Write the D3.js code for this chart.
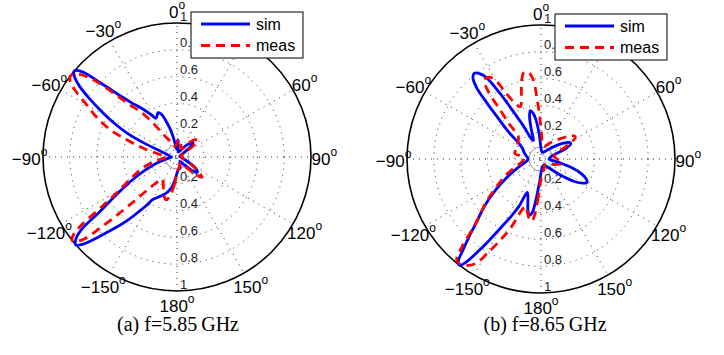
<!DOCTYPE html>
<html><head><meta charset="utf-8">
<script src="https://cdn.jsdelivr.net/npm/d3@7"></script>
<style>body{margin:0;background:#fff}</style>
</head><body><svg id="c" width="724" height="355"></svg>
<script>
// ---- data ----
const angleTicks = [0, 30, 60, 90, 120, 150, 180, -150, -120, -90, -60, -30];
const angleTickLabels = ["0", "30", "60", "90", "120", "150", "180", "\u2212150", "\u2212120", "\u221290", "\u221260", "\u221230"];
const ringValues = [0.2, 0.4, 0.6, 0.8, 1];
const ringLabels = ["0.2", "0.4", "0.6", "0.8", "1"];
const seriesNames = ["sim", "meas"];
const captions = ["(a) f=5.85\u2009GHz", "(b) f=8.65\u2009GHz"];

// [angle in degrees, normalised magnitude]
const simA = [[-180,0.12],[-175,0.17],[-170,0.23],[-165,0.27],[-160,0.30],[-155,0.33],[-152,0.35],[-150,0.37],[-148,0.42],[-145,0.50],[-142,0.60],[-139,0.70],[-137,0.77],[-135,0.86],[-133,0.95],[-131,1.0],[-129,0.97],[-127,0.88],[-125.5,0.72],[-123,0.58],[-120,0.46],[-117,0.37],[-113,0.27],[-109,0.19],[-105,0.13],[-100,0.08],[-95,0.05],[-90,0.04],[-85,0.05],[-80,0.06],[-75,0.08],[-70,0.14],[-67,0.27],[-64.5,0.41],[-62,0.52],[-59,0.65],[-56,0.80],[-54,0.90],[-52,0.97],[-50,1.0],[-48,0.95],[-46,0.80],[-43,0.63],[-40,0.53],[-36,0.45],[-32,0.38],[-28.5,0.33],[-26,0.34],[-23,0.36],[-20,0.34],[-16,0.26],[-12,0.18],[-8,0.10],[-4,0.06],[0,0.09],[3,0.13],[6,0.08],[12,0.04],[25,0.05],[35,0.09],[43,0.14],[48,0.16],[53,0.12],[60,0.05],[75,0.02],[90,0.03],[105,0.05],[115,0.10],[121,0.16],[126,0.19],[131,0.16],[137,0.08],[145,0.04],[155,0.05],[163,0.08],[168,0.09],[173,0.09],[178,0.11]];
const measA = [[-180,0.12],[-175,0.2],[-170,0.29],[-166,0.33],[-162,0.31],[-157,0.26],[-152,0.22],[-146,0.2],[-141,0.25],[-138,0.33],[-136,0.45],[-134.5,0.58],[-133,0.75],[-131.5,0.92],[-130,0.98],[-128.5,1.0],[-127,0.97],[-125.5,0.88],[-124,0.72],[-122,0.58],[-119,0.47],[-115,0.38],[-110,0.3],[-105,0.23],[-100,0.15],[-95,0.1],[-90,0.08],[-85,0.1],[-80,0.15],[-77,0.22],[-74,0.3],[-71,0.4],[-68,0.53],[-64,0.66],[-60,0.78],[-57,0.9],[-55,0.97],[-53,1.0],[-51,0.98],[-49,0.93],[-47,0.83],[-44.5,0.65],[-42,0.52],[-39,0.44],[-36,0.34],[-33,0.24],[-30,0.18],[-25,0.14],[-18,0.1],[-10,0.08],[0,0.1],[8,0.13],[14,0.13],[20,0.08],[30,0.07],[40,0.14],[47,0.19],[52,0.2],[56,0.14],[62,0.06],[75,0.03],[90,0.04],[105,0.05],[115,0.1],[123,0.18],[129,0.24],[133,0.2],[139,0.1],[148,0.05],[160,0.06],[170,0.08],[176,0.1]];
const simB = [[-180,0.1],[-177,0.16],[-175,0.21],[-172.5,0.33],[-170.5,0.41],[-168,0.43],[-165,0.38],[-161,0.3],[-157.5,0.27],[-155,0.39],[-152.5,0.48],[-150,0.58],[-147.5,0.72],[-146,0.82],[-144,0.95],[-142.5,1.0],[-141,0.98],[-139.5,0.9],[-137,0.78],[-134,0.66],[-131,0.58],[-128,0.5],[-124,0.4],[-119,0.3],[-113,0.21],[-105,0.14],[-95,0.1],[-85,0.1],[-75,0.12],[-67,0.14],[-60,0.16],[-55,0.2],[-50,0.32],[-46,0.46],[-44,0.58],[-42,0.72],[-40,0.79],[-38,0.81],[-36,0.79],[-34,0.74],[-32,0.58],[-30.5,0.43],[-28,0.28],[-25,0.16],[-22,0.15],[-18,0.24],[-15,0.33],[-12.5,0.37],[-10,0.35],[-7.5,0.3],[-4,0.18],[0,0.08],[10,0.05],[25,0.06],[40,0.1],[52,0.18],[59,0.24],[63,0.25],[67,0.2],[75,0.08],[90,0.06],[100,0.13],[106,0.24],[110,0.32],[114,0.37],[117,0.385],[120,0.36],[124,0.3],[130,0.18],[140,0.08],[155,0.05],[170,0.06]];
const measB = [[-180,0.15],[-176,0.28],[-173.5,0.42],[-171.5,0.47],[-168.5,0.45],[-165,0.4],[-162,0.37],[-159,0.42],[-156.5,0.55],[-154,0.65],[-151,0.78],[-148,0.92],[-145,0.97],[-142,0.99],[-140,0.98],[-138,0.88],[-135,0.7],[-131,0.58],[-128,0.52],[-125,0.45],[-120,0.36],[-114,0.28],[-107,0.2],[-100,0.15],[-92,0.13],[-84,0.13],[-78,0.2],[-72,0.2],[-64,0.2],[-56,0.21],[-50,0.22],[-45,0.24],[-42,0.36],[-39.5,0.5],[-38,0.64],[-36,0.72],[-34,0.73],[-32,0.72],[-30,0.68],[-28,0.56],[-25,0.46],[-21.5,0.42],[-17,0.5],[-14,0.6],[-11,0.66],[-8,0.65],[-5.5,0.59],[-4,0.47],[-2,0.33],[1,0.19],[5,0.12],[15,0.1],[30,0.14],[45,0.22],[53,0.29],[57,0.305],[61,0.27],[67,0.15],[78,0.1],[90,0.12],[97,0.15],[102,0.16],[108,0.13],[120,0.08],[140,0.05],[160,0.07],[172,0.1]];

// ---- drawing ----
const svg = d3.select("#c");
const R = 134;
const panels = [
  {cx: 177, cy: 157, sim: simA, meas: measA, cap: captions[0], capX: 178},
  {cx: 541, cy: 159, sim: simB, meas: measB, cap: captions[1], capX: 545}
];
const rScale = d3.scaleLinear().domain([0, 1]).range([0, R]);
const rad = d => d * Math.PI / 180;
const line = d3.lineRadial()
  .angle(d => rad(d[0]))
  .radius(d => rScale(d[1]))
  .curve(d3.curveCatmullRomClosed.alpha(0.5));

const sans = "'Liberation Sans', Arial, Helvetica, sans-serif";

panels.forEach(p => {
  const g = svg.append("g").attr("transform", `translate(${p.cx},${p.cy})`);
  // dotted rings
  g.selectAll("circle.ring").data(ringValues.filter(v => v < 1)).enter()
    .append("circle").attr("r", d => rScale(d))
    .attr("fill", "none").attr("stroke", "#333").attr("stroke-width", 1)
    .attr("stroke-dasharray", "1,5");
  // small centre circle
  g.append("circle").attr("r", rScale(0.09)).attr("fill", "none")
    .attr("stroke", "#777").attr("stroke-width", 0.8);
  // dotted spokes
  g.selectAll("line.spoke").data(angleTicks.filter(a => a >= 0 && a < 180)).enter()
    .append("line")
    .attr("x1", d => -rScale(1) * Math.sin(rad(d))).attr("y1", d => rScale(1) * Math.cos(rad(d)))
    .attr("x2", d => rScale(1) * Math.sin(rad(d))).attr("y2", d => -rScale(1) * Math.cos(rad(d)))
    .attr("stroke", "#333").attr("stroke-width", 1).attr("stroke-dasharray", "1,5");
  // outer circle
  g.append("circle").attr("r", rScale(1)).attr("fill", "none")
    .attr("stroke", "#000").attr("stroke-width", 1.6);

  // radial labels (above and below centre)
  ringValues.forEach((v, i) => {
    [-1, 1].forEach(s => {
      g.append("text").attr("x", 3).attr("y", s * rScale(v) - 7)
        .attr("dominant-baseline", "central")
        .attr("font-family", sans).attr("font-size", 13).attr("fill", "#222")
        .text(ringLabels[i]);
    });
  });

  // angle labels
  angleTicks.forEach((a, i) => {
    const t = g.append("text")
      .attr("x", 1.1 * R * Math.sin(rad(a)))
      .attr("y", -1.1 * R * Math.cos(rad(a)) + 2)
      .attr("text-anchor", "middle").attr("dominant-baseline", "central")
      .attr("font-family", sans).attr("font-size", 17).attr("fill", "#000");
    t.append("tspan").text(angleTickLabels[i]);
    t.append("tspan").attr("dy", -7).attr("font-size", 12).text("o");
  });

  // curves
  g.append("path").datum(p.sim).attr("d", line)
    .attr("fill", "none").attr("stroke", "#0000ff").attr("stroke-width", 2.8)
    .attr("stroke-linejoin", "round");
  g.append("path").datum(p.meas).attr("d", line)
    .attr("fill", "none").attr("stroke", "#ff0000").attr("stroke-width", 2.8)
    .attr("stroke-dasharray", "9,6");

  // legend
  const lg = g.append("g").attr("transform", `translate(14,-145)`);
  lg.append("rect").attr("width", 112).attr("height", 46)
    .attr("fill", "#fff").attr("stroke", "#000").attr("stroke-width", 1);
  const styles = [{c: "#0000ff", d: null}, {c: "#ff0000", d: "9,6"}];
  seriesNames.forEach((n, i) => {
    const y = 12 + i * 21.5;
    const l = lg.append("line").attr("x1", 10).attr("x2", 59).attr("y1", y).attr("y2", y)
      .attr("stroke", styles[i].c).attr("stroke-width", 2.8);
    if (styles[i].d) l.attr("stroke-dasharray", styles[i].d);
    lg.append("text").attr("x", 65).attr("y", y).attr("dominant-baseline", "central")
      .attr("font-family", sans).attr("font-size", 16).text(n);
  });

  // caption
  svg.append("text").attr("x", p.capX).attr("y", 331).attr("text-anchor", "middle")
    .attr("font-family", "'Liberation Serif', 'Times New Roman', serif").attr("font-size", 20)
    .text(p.cap);
});
</script>
</body></html>
